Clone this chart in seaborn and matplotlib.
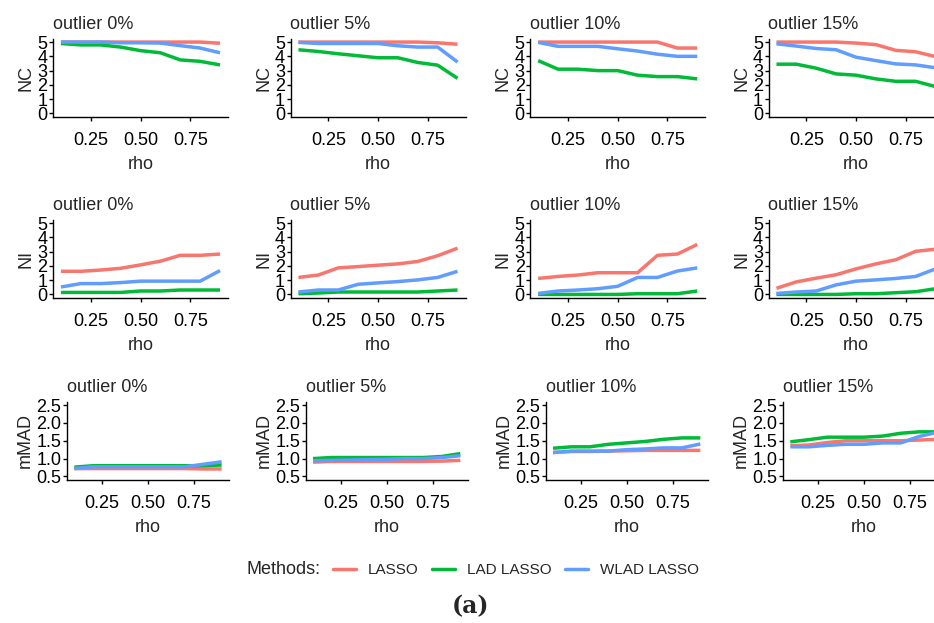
import matplotlib
matplotlib.use("Agg")
import matplotlib.pyplot as plt
from matplotlib.lines import Line2D
import numpy as np
import pandas as pd
import seaborn as sns

# ---------------- data ----------------
rho = [0.1, 0.2, 0.3, 0.4, 0.5, 0.6, 0.7, 0.8, 0.9]
methods = ["LASSO", "LAD LASSO", "WLAD LASSO"]
outliers = ["outlier 0%", "outlier 5%", "outlier 10%", "outlier 15%"]
metrics = ["NC", "NI", "mMAD"]
colors = ["#F8766D", "#00BA38", "#619CFF"]

# NC : one list per outlier level (0%, 5%, 10%, 15%)
nc_lasso = [
    [5.0, 5.0, 5.0, 5.0, 5.0, 5.0, 5.0, 5.0, 4.92],
    [5.0, 5.0, 5.0, 5.0, 5.0, 5.0, 5.0, 4.95, 4.85],
    [5.0, 5.0, 5.0, 5.0, 5.0, 5.0, 5.0, 4.58, 4.58],
    [5.0, 5.0, 5.0, 5.0, 4.93, 4.82, 4.42, 4.32, 3.98],
]
nc_lad = [
    [4.9, 4.8, 4.8, 4.65, 4.4, 4.25, 3.75, 3.65, 3.4],
    [4.46, 4.34, 4.18, 4.04, 3.9, 3.9, 3.57, 3.38, 2.46],
    [3.7, 3.1, 3.1, 3.0, 3.0, 2.68, 2.58, 2.58, 2.42],
    [3.45, 3.45, 3.17, 2.77, 2.68, 2.42, 2.25, 2.25, 1.88],
]
nc_wlad = [
    [5.0, 5.0, 5.0, 4.95, 4.95, 4.93, 4.75, 4.58, 4.25],
    [4.98, 4.9, 4.9, 4.9, 4.9, 4.74, 4.65, 4.65, 3.6],
    [4.98, 4.7, 4.7, 4.7, 4.53, 4.37, 4.15, 4.0, 4.0],
    [4.88, 4.72, 4.55, 4.46, 3.94, 3.7, 3.47, 3.4, 3.2],
]

# NI
ni_lasso = [
    [1.62, 1.62, 1.71, 1.83, 2.07, 2.33, 2.74, 2.74, 2.83],
    [1.19, 1.36, 1.86, 1.95, 2.05, 2.14, 2.31, 2.71, 3.24],
    [1.12, 1.26, 1.36, 1.52, 1.52, 1.52, 2.74, 2.83, 3.5],
    [0.43, 0.88, 1.14, 1.38, 1.79, 2.14, 2.43, 3.02, 3.17],
]
ni_lad = [
    [0.14, 0.14, 0.14, 0.14, 0.24, 0.24, 0.31, 0.31, 0.31],
    [0.05, 0.1, 0.17, 0.17, 0.17, 0.17, 0.17, 0.24, 0.31],
    [0.0, 0.0, 0.0, 0.0, 0.0, 0.05, 0.05, 0.05, 0.24],
    [0.0, 0.0, 0.0, 0.0, 0.05, 0.05, 0.12, 0.19, 0.4],
]
ni_wlad = [
    [0.52, 0.76, 0.76, 0.83, 0.93, 0.93, 0.93, 0.93, 1.67],
    [0.17, 0.31, 0.31, 0.71, 0.81, 0.9, 1.02, 1.19, 1.62],
    [0.07, 0.24, 0.31, 0.4, 0.57, 1.19, 1.19, 1.64, 1.86],
    [0.07, 0.17, 0.24, 0.67, 0.93, 1.02, 1.12, 1.26, 1.79],
]

# mMAD
mmad_lasso = [
    [0.72, 0.72, 0.72, 0.72, 0.72, 0.72, 0.72, 0.71, 0.71],
    [0.9, 0.92, 0.92, 0.92, 0.92, 0.92, 0.92, 0.93, 0.95],
    [1.17, 1.2, 1.2, 1.21, 1.22, 1.23, 1.23, 1.23, 1.23],
    [1.36, 1.38, 1.45, 1.5, 1.5, 1.5, 1.5, 1.52, 1.54],
]
mmad_lad = [
    [0.76, 0.8, 0.8, 0.8, 0.8, 0.8, 0.8, 0.8, 0.82],
    [1.0, 1.03, 1.03, 1.03, 1.03, 1.03, 1.03, 1.06, 1.14],
    [1.29, 1.33, 1.33, 1.4, 1.44, 1.48, 1.54, 1.58, 1.58],
    [1.47, 1.53, 1.6, 1.6, 1.6, 1.63, 1.71, 1.75, 1.75],
]
mmad_wlad = [
    [0.72, 0.77, 0.77, 0.77, 0.77, 0.77, 0.77, 0.84, 0.91],
    [0.94, 0.95, 0.96, 0.97, 0.98, 1.0, 1.0, 1.03, 1.08],
    [1.17, 1.21, 1.21, 1.21, 1.25, 1.27, 1.3, 1.3, 1.41],
    [1.33, 1.33, 1.37, 1.4, 1.4, 1.44, 1.44, 1.62, 1.74],
]

metric_data = {
    "NC": [nc_lasso, nc_lad, nc_wlad],
    "NI": [ni_lasso, ni_lad, ni_wlad],
    "mMAD": [mmad_lasso, mmad_lad, mmad_wlad],
}

rows = []
for metric in metrics:
    for mi, m in enumerate(methods):
        for oi, o in enumerate(outliers):
            for r, v in zip(rho, metric_data[metric][mi][oi]):
                rows.append({"metric": metric, "Method": m, "outlier": o, "rho": r, "value": v})
df = pd.DataFrame(rows)

# ---------------- style ----------------
sns.set_style("ticks")
plt.rcParams["font.family"] = ["Liberation Sans", "DejaVu Sans"]
plt.rcParams["axes.linewidth"] = 1.0

W, H = 934, 623
fig = plt.figure(figsize=(W / 100, H / 100), dpi=100)

# pixel layouts (left, top, width, height)
row_tops = [38.5, 219.5, 401.5]
row_h = 78.5
lefts_12 = [53, 290.5, 530.2, 768.5]
width_12 = 175
lefts_3 = [67, 305.7, 545.7, 783]
width_3 = 162

ylims = {"NC": (-0.25, 5.25), "NI": (-0.25, 5.25), "mMAD": (0.4, 2.6)}
yticks = {"NC": [0, 1, 2, 3, 4, 5], "NI": [0, 1, 2, 3, 4, 5],
          "mMAD": [0.5, 1.0, 1.5, 2.0, 2.5]}
ytlabels = {"NC": ["0", "1", "2", "3", "4", "5"], "NI": ["0", "1", "2", "3", "4", "5"],
            "mMAD": ["0.5", "1.0", "1.5", "2.0", "2.5"]}

FS = 13
LW = 2.5
for ri, metric in enumerate(metrics):
    lefts = lefts_3 if metric == "mMAD" else lefts_12
    width = width_3 if metric == "mMAD" else width_12
    for ci, o in enumerate(outliers):
        l, t = lefts[ci], row_tops[ri]
        ax = fig.add_axes([l / W, 1 - (t + row_h) / H, width / W, row_h / H])
        sub = df[(df.metric == metric) & (df.outlier == o)]
        sns.lineplot(data=sub, x="rho", y="value", hue="Method", hue_order=methods,
                     palette=colors, linewidth=LW, legend=False, ax=ax,
                     solid_capstyle="butt")
        ax.set_xlim(0.06, 0.94)
        ax.set_ylim(*ylims[metric])
        ax.set_xticks([0.25, 0.5, 0.75])
        ax.set_xticklabels(["0.25", "0.50", "0.75"])
        ax.set_yticks(yticks[metric])
        ax.set_yticklabels(ytlabels[metric])
        for s in ["top", "right"]:
            ax.spines[s].set_visible(False)
        for s in ["left", "bottom"]:
            ax.spines[s].set_color("black")
            ax.spines[s].set_linewidth(1.0)
        ax.tick_params(axis="x", length=3, width=1.0, color="black", pad=8,
                       labelsize=FS, labelcolor="black")
        ax.tick_params(axis="y", length=3, width=1.0, color="black", pad=1,
                       labelsize=FS, labelcolor="black")
        ax.set_xlabel("rho", fontsize=FS, labelpad=5)
        ax.set_ylabel(metric, fontsize=FS, labelpad=2)
        ax.set_title(o, loc="left", fontsize=FS, pad=7)

# legend
ly = 1 - 570 / H
fig.text(247 / W, ly, "Methods:", fontsize=FS, va="center", ha="left")
handles = [Line2D([0], [0], color=c, lw=LW) for c in colors]
fig.legend(handles, methods, loc="center left", bbox_to_anchor=(333 / W, ly),
           ncol=3, frameon=False, fontsize=11, handlelength=1.5,
           handletextpad=0.8, columnspacing=0.85, borderaxespad=0, borderpad=0)

fig.text(470 / W, 1 - 606 / H, "(a)", fontsize=17, fontweight="bold",
         family="DejaVu Serif", ha="center", va="center")

fig.savefig("out.png", dpi=100)
